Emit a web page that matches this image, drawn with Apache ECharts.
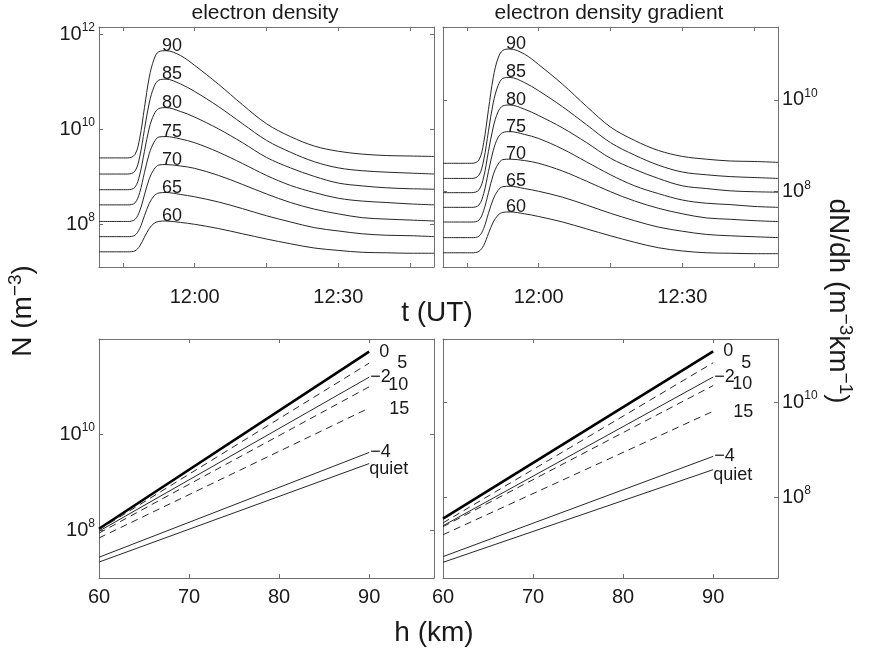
<!DOCTYPE html>
<html>
<head>
<meta charset="utf-8">
<script src="https://cdn.jsdelivr.net/npm/echarts@6/dist/echarts.min.js"></script>
<style>
  html, body { margin: 0; padding: 0; background: #fff; }
  #chart { width: 870px; height: 652px; }
</style>
</head>
<body>
<div id="chart"></div>
<script>
// ---- data -------------------------------------------------------------
// sample times, minutes after 00:00 UT (11:40 ... 12:50)
const timeMin = [700, 706, 707.5, 708.5, 709.5, 710.5, 711.5, 712.5, 714, 717, 720,
                 725, 730, 735, 740, 745, 750, 755, 760, 765, 770];
const clockTicks = [705, 720, 735, 750, 765];
const clockLabels = [720, 750];

const altitudeNames = ['90', '85', '80', '75', '70', '65', '60'];

// electron density N, log10 (m^-3), per altitude (km)
const nExp90 = [9.40, 9.40, 9.47, 9.81, 10.46, 11.10, 11.48, 11.64, 11.66, 11.56, 11.35, 10.95, 10.52, 10.12, 9.85, 9.65, 9.54, 9.48, 9.45, 9.44, 9.43];
const nExp85 = [9.06, 9.06, 9.12, 9.42, 10.00, 10.56, 10.90, 11.04, 11.06, 10.96, 10.80, 10.48, 10.12, 9.77, 9.52, 9.32, 9.19, 9.13, 9.10, 9.08, 9.06];
const nExp80 = [8.73, 8.73, 8.78, 9.04, 9.54, 10.03, 10.32, 10.44, 10.46, 10.38, 10.26, 10.01, 9.72, 9.41, 9.19, 9.01, 8.87, 8.81, 8.77, 8.75, 8.74];
const nExp75 = [8.41, 8.41, 8.45, 8.67, 9.09, 9.49, 9.73, 9.84, 9.85, 9.80, 9.72, 9.52, 9.28, 9.03, 8.82, 8.67, 8.55, 8.49, 8.46, 8.43, 8.41];
const nExp70 = [8.06, 8.06, 8.10, 8.28, 8.62, 8.96, 9.16, 9.25, 9.26, 9.23, 9.18, 9.03, 8.84, 8.64, 8.46, 8.32, 8.22, 8.14, 8.11, 8.09, 8.07];
const nExp65 = [7.74, 7.74, 7.77, 7.91, 8.18, 8.44, 8.60, 8.66, 8.67, 8.63, 8.58, 8.47, 8.33, 8.18, 8.05, 7.93, 7.86, 7.80, 7.77, 7.76, 7.74];
const nExp60 = [7.42, 7.42, 7.44, 7.54, 7.73, 7.91, 8.02, 8.06, 8.07, 8.04, 8.00, 7.91, 7.80, 7.69, 7.59, 7.50, 7.45, 7.41, 7.40, 7.39, 7.39];

// electron density gradient dN/dh, log10 (m^-3 km^-1), per altitude (km)
const gExp90 = [8.62, 8.62, 8.69, 9.07, 9.79, 10.49, 10.91, 11.08, 11.11, 11.00, 10.77, 10.34, 9.86, 9.41, 9.12, 8.90, 8.77, 8.71, 8.67, 8.66, 8.64];
const gExp85 = [8.29, 8.29, 8.36, 8.69, 9.32, 9.94, 10.31, 10.47, 10.49, 10.38, 10.20, 9.85, 9.46, 9.07, 8.80, 8.58, 8.43, 8.37, 8.33, 8.31, 8.29];
const gExp80 = [7.98, 7.98, 8.04, 8.32, 8.88, 9.41, 9.74, 9.87, 9.89, 9.80, 9.66, 9.39, 9.07, 8.73, 8.49, 8.29, 8.13, 8.07, 8.02, 8.00, 7.99];
const gExp75 = [7.66, 7.66, 7.71, 7.96, 8.44, 8.90, 9.18, 9.29, 9.31, 9.25, 9.16, 8.93, 8.65, 8.37, 8.13, 7.96, 7.82, 7.75, 7.72, 7.68, 7.66];
const gExp70 = [7.34, 7.34, 7.38, 7.59, 7.98, 8.37, 8.60, 8.70, 8.71, 8.68, 8.62, 8.45, 8.23, 8.00, 7.80, 7.64, 7.52, 7.43, 7.40, 7.37, 7.35];
const gExp65 = [7.00, 7.00, 7.03, 7.20, 7.53, 7.84, 8.03, 8.11, 8.12, 8.07, 8.01, 7.88, 7.71, 7.53, 7.37, 7.23, 7.14, 7.07, 7.04, 7.02, 7.00];
const gExp60 = [6.67, 6.67, 6.70, 6.83, 7.09, 7.34, 7.49, 7.55, 7.56, 7.52, 7.46, 7.34, 7.19, 7.04, 6.90, 6.78, 6.71, 6.67, 6.66, 6.65, 6.65];

// height profiles, h in km
const heightKm = [60, 90];
const heightTicks = [60, 70, 80, 90];
const profileNames = ['0', '5', '\u22122', '10', '15', '\u22124', 'quiet'];
// N(h), log10
const nProf0 = [8.04, 11.71];
const nProf5 = [8.02, 11.47];
const nProfM2 = [7.99, 11.18];
const nProf10 = [7.95, 10.98];
const nProf15 = [7.85, 10.54];
const nProfM4 = [7.45, 9.62];
const nProfQuiet = [7.35, 9.39];
// dN/dh(h), log10
const gProf0 = [7.55, 11.07];
const gProf5 = [7.46, 10.83];
const gProfM2 = [7.40, 10.53];
const gProf10 = [7.38, 10.35];
const gProf15 = [7.21, 9.81];
const gProfM4 = [6.75, 8.86];
const gProfQuiet = [6.63, 8.58];

// decade ticks on the log axes
const decadeTicksTop = [1e8, 1e10, 1e12];
const decadeTicks = [1e8, 1e10];

// ---- styling ----------------------------------------------------------
const FONT = '"Liberation Sans", Arial, Helvetica, sans-serif';
const TXT = '#1a1a1a';
const AX = '#707070';
const LINE = '#262626';
const TICK_FS = 20;
const CURVE_FS = 18;
const NAME_FS = 28;

const grids = [
  { left: 99, top: 27, width: 335, height: 240 },
  { left: 443, top: 27, width: 335, height: 240 },
  { left: 99, top: 339, width: 335, height: 239 },
  { left: 443, top: 339, width: 335, height: 239 }
];
// log10 limits of each panel's vertical axis
const yLimits = [[7.1, 12.16], [6.36, 11.59], [7.02, 11.97], [6.30, 11.33]];

function clock(v) {
  const h = Math.floor(v / 60), m = Math.round(v - h * 60);
  return h + ':' + (m < 10 ? '0' : '') + m;
}
function powLabel(v) {
  return '{b|10}{s|' + Math.round(Math.log10(v)) + '}';
}
const powRich = {
  b: { fontSize: TICK_FS, fontFamily: FONT, color: TXT },
  s: { fontSize: 12, fontFamily: FONT, color: TXT, padding: [0, 0, 13, 0] }
};

function xAxisPair(gi, min, max, ticks, labels, fmt, margin) {
  const line = { show: true, onZero: false, lineStyle: { color: AX, width: 1 } };
  const tick = { show: true, inside: true, length: 4, customValues: ticks, lineStyle: { color: AX } };
  return [
    { type: 'value', gridIndex: gi, position: 'bottom', min, max,
      axisLine: line, axisTick: tick, splitLine: { show: false },
      axisLabel: { show: true, customValues: labels, formatter: fmt, margin,
                   fontSize: TICK_FS, fontFamily: FONT, color: TXT } },
    { type: 'value', gridIndex: gi, position: 'top', min, max,
      axisLine: line, axisTick: tick, splitLine: { show: false }, axisLabel: { show: false } }
  ];
}
function yAxisPair(gi, lim, ticks, labelSide) {
  const line = { show: true, onZero: false, lineStyle: { color: AX, width: 1 } };
  const tick = { show: true, inside: true, length: 4, customValues: ticks, lineStyle: { color: AX } };
  const other = labelSide === 'left' ? 'right' : 'left';
  return [
    { type: 'log', logBase: 10, gridIndex: gi, position: labelSide,
      min: Math.pow(10, lim[0]), max: Math.pow(10, lim[1]),
      axisLine: line, axisTick: tick, splitLine: { show: false }, minorTick: { show: false },
      axisLabel: { show: true, customValues: ticks, formatter: powLabel, rich: powRich, margin: 4,
                   fontSize: TICK_FS, fontFamily: FONT, color: TXT } },
    { type: 'log', logBase: 10, gridIndex: gi, position: other,
      min: Math.pow(10, lim[0]), max: Math.pow(10, lim[1]),
      axisLine: line, axisTick: tick, splitLine: { show: false }, minorTick: { show: false },
      axisLabel: { show: false } }
  ];
}

const xAxes = [].concat(
  xAxisPair(0, 700, 770, clockTicks, clockLabels, clock, 20),
  xAxisPair(1, 700, 770, clockTicks, clockLabels, clock, 20),
  xAxisPair(2, 60, 97.2, heightTicks, heightTicks, v => String(v), 9),
  xAxisPair(3, 60, 97.2, heightTicks, heightTicks, v => String(v), 9)
);
const yAxes = [].concat(
  yAxisPair(0, yLimits[0], decadeTicksTop, 'left'),
  yAxisPair(1, yLimits[1], decadeTicks, 'right'),
  yAxisPair(2, yLimits[2], decadeTicks, 'left'),
  yAxisPair(3, yLimits[3], decadeTicks, 'right')
);

// ---- series -----------------------------------------------------------
const PEAK_IDX = 8;
function timeSeries(name, exps, axisIdx) {
  return {
    type: 'line', name, xAxisIndex: axisIdx, yAxisIndex: axisIdx,
    symbol: 'circle', symbolSize: 0, showSymbol: true, showAllSymbol: true,
    smooth: 0.35, silent: true, animation: false,
    lineStyle: { color: LINE, width: 1 }, itemStyle: { color: LINE },
    data: timeMin.map((t, i) => {
      const item = { value: [t, Math.pow(10, exps[i])] };
      if (i === PEAK_IDX) {
        item.label = { show: true, position: 'top', distance: 0, offset: [6, 4],
                       formatter: name, fontSize: CURVE_FS, fontFamily: FONT, color: TXT };
      }
      return item;
    })
  };
}

// placement of each profile's name at its 90 km end
const profileLabelLayout = {
  '0': { d: 10, dy: 0 }, '5': { d: 28, dy: 0 }, '\u22122': { d: 1, dy: 0 },
  '10': { d: 19, dy: -2 }, '15': { d: 20, dy: 1 }, '\u22124': { d: 1, dy: 0 },
  'quiet': { d: 0, dy: 5 }
};
const profileStyle = {
  '0': { width: 2.6, type: 'solid', color: '#000' },
  '5': { width: 1, type: [7, 5], color: LINE },
  '\u22122': { width: 1, type: 'solid', color: LINE },
  '10': { width: 1, type: [7, 5], color: LINE },
  '15': { width: 1, type: [7, 5], color: LINE },
  '\u22124': { width: 1, type: 'solid', color: LINE },
  'quiet': { width: 1, type: 'solid', color: LINE }
};
function profileSeries(name, exps, axisIdx) {
  const lay = profileLabelLayout[name];
  return {
    type: 'line', name, xAxisIndex: axisIdx, yAxisIndex: axisIdx,
    symbol: 'circle', symbolSize: 0, showSymbol: true, silent: true, animation: false,
    lineStyle: profileStyle[name], itemStyle: { color: LINE },
    data: heightKm.map((h, i) => {
      const item = { value: [h, Math.pow(10, exps[i])] };
      if (i === heightKm.length - 1) {
        item.label = { show: true, position: 'right', distance: lay.d, offset: [0, lay.dy],
                       formatter: name, fontSize: CURVE_FS, fontFamily: FONT, color: TXT };
      }
      return item;
    })
  };
}

const nSets = [nExp90, nExp85, nExp80, nExp75, nExp70, nExp65, nExp60];
const gSets = [gExp90, gExp85, gExp80, gExp75, gExp70, gExp65, gExp60];
const nProfiles = [nProf0, nProf5, nProfM2, nProf10, nProf15, nProfM4, nProfQuiet];
const gProfiles = [gProf0, gProf5, gProfM2, gProf10, gProf15, gProfM4, gProfQuiet];

const series = [];
altitudeNames.forEach((a, i) => series.push(timeSeries(a, nSets[i], 0)));
altitudeNames.forEach((a, i) => series.push(timeSeries(a, gSets[i], 2)));
profileNames.forEach((p, i) => series.push(profileSeries(p, nProfiles[i], 4)));
profileNames.forEach((p, i) => series.push(profileSeries(p, gProfiles[i], 6)));

// ---- titles and axis names -------------------------------------------
function txt(x, y, text, size, extra) {
  return Object.assign({
    type: 'text', x, y, silent: true,
    style: Object.assign({ text, font: size + 'px ' + FONT, fill: TXT,
      align: 'center', verticalAlign: 'middle', textAlign: 'center', textVerticalAlign: 'middle' },
      extra && extra.style)
  }, extra && extra.el);
}
const supRich = { s: { fontSize: 19, fontFamily: FONT, fill: TXT, color: TXT, padding: [0, 0, 15, 0] } };

const graphics = [
  txt(265, 13, 'electron density', 21),
  txt(609, 13, 'electron density gradient', 21),
  txt(437, 313, 't (UT)', NAME_FS),
  txt(434, 633, 'h (km)', NAME_FS),
  txt(23, 311, 'N (m{s|\u22123})', NAME_FS, { style: { rich: supRich }, el: { rotation: Math.PI / 2 } }),
  txt(838, 301, 'dN/dh (m{s|\u22123}km{s|\u22121})', NAME_FS, { style: { rich: supRich }, el: { rotation: -Math.PI / 2 } })
];

const chart = echarts.init(document.getElementById('chart'), null, { renderer: 'canvas' });
chart.setOption({
  backgroundColor: '#fff',
  animation: false,
  grid: grids,
  xAxis: xAxes,
  yAxis: yAxes,
  series,
  graphic: graphics
});
</script>
</body>
</html>
